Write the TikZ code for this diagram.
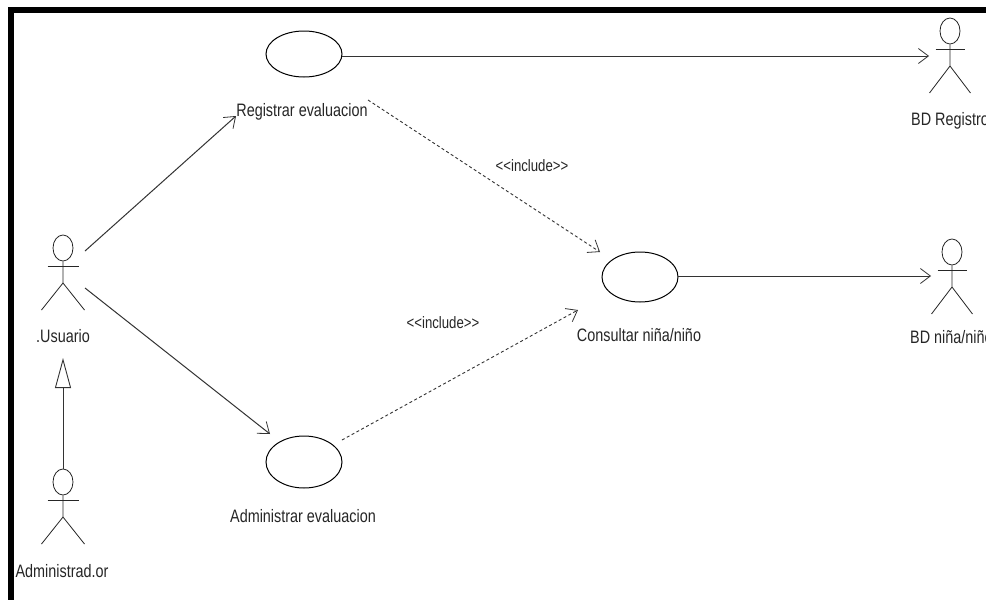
\documentclass[tikz,border=0pt]{standalone}
\usepackage{fontspec}
\setmainfont[FakeStretch=0.8]{Liberation Sans}
\usetikzlibrary{arrows.meta,shapes.geometric}
\tikzset{
  line/.style={draw=black!80,line width=1pt},
  usecase/.style={ellipse,draw=black,line width=1pt,minimum width=76pt,minimum height=46pt,inner sep=0pt},
  head/.style={ellipse,draw=black!85,line width=.8pt,minimum width=20pt,minimum height=26pt,inner sep=0pt},
  lbl/.style={font=\fontsize{18}{20}\selectfont,text=black!85,inner sep=0pt},
  incllbl/.style={font=\fontsize{16.5}{18}\selectfont,text=black!85,inner sep=0pt},
  assoc/.style={line,-{Straight Barb[length=10pt,width=15pt,line width=.8pt]}},
  incl/.style={draw=black!80,line width=.9pt,dash pattern=on 3pt off 2.5pt,-{Straight Barb[length=10pt,width=15pt,line width=.8pt]}},
  gen/.style={line,-{Triangle[open,length=30pt,width=16pt,line width=.9pt,fill=white]}},
  stick/.style={draw=black!85,line width=.8pt}
}
\newcommand{\actor}[4]{% name, x, head y, arm half-width
  \node[head] (#1) at (#2,#3) {};
  \coordinate (#1arm) at (#2,#3+18);
  \coordinate (#1crotch) at (#2,#3+35);
  \draw[stick] (#1.south) -- (#1crotch) -- ++(-#4-6,27);
  \draw[stick] (#1crotch) -- ++(#4+6,27);
  \draw[stick] ([xshift=-#4 pt]#1arm) -- ([xshift=#4 pt]#1arm);
}
\begin{document}
\begin{tikzpicture}[x=1pt,y=-1pt]
\useasboundingbox (0,0) rectangle (986,600);
\fill[white] (0,0) rectangle (986,600);
\fill[black] (8,7) rectangle (986,13);
\fill[black] (8,7) rectangle (14,600);

\actor{usuario}{63}{248}{15.5}
\actor{admin}{63}{482}{15.5}
\actor{bdreg}{950}{31}{14.5}
\actor{bdnino}{952}{252}{14.5}

\node[usecase] (reg) at (304,54) {};
\node[usecase,minimum height=50pt] (cons) at (640,277) {};
\node[usecase,minimum height=52pt] (adm) at (304,462) {};

\node[lbl] (lreg) at (302,112) {Registrar evaluacion};
\node[lbl] (lcons) at (639,335) {Consultar niña/niño};
\node[lbl] (ladm) at (303,516) {Administrar evaluacion};
\node[lbl] (lusu) at (63,336) {.Usuario};
\node[lbl] (ladmin) at (62,571) {Administrad.or};
\node[lbl,anchor=west] (lbdreg) at (911,121) {BD Registro};
\node[lbl,anchor=west] (lbdnino) at (910,337) {BD niña/niño};
\node[incllbl] (inc1) at (532,166) {<{}<include>{}>};
\node[incllbl] (inc2) at (443,323) {<{}<include>{}>};

\coordinate (uA) at (85,251);
\coordinate (uB) at (85,288);
\coordinate (regIn) at (236,116);
\coordinate (admIn) at (270,434);
\coordinate (genTop) at (63,358);
\coordinate (regDash) at (368,100);
\coordinate (admDash) at (342,440);
\coordinate (consA) at (600,252);
\coordinate (consB) at (578,310);
\coordinate (regOut) at (342,56);
\coordinate (bdregIn) at (929,56);
\coordinate (consOut) at (678,276);
\coordinate (bdninoIn) at (931,276);

\draw[assoc] (uA) -- (regIn);
\draw[assoc] (uB) -- (admIn);
\draw[gen] (admin.north) -- (genTop);
\draw[assoc] (regOut) -- (bdregIn);
\draw[assoc] (consOut) -- (bdninoIn);
\draw[incl] (regDash) -- (consA);
\draw[incl] (admDash) -- (consB);
\end{tikzpicture}
\end{document}
